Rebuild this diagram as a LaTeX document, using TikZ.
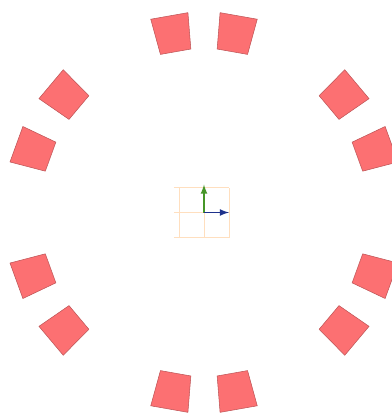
\documentclass[tikz,border=0pt]{standalone}
\usepackage{tikz}

\definecolor{padred}{RGB}{252,112,114}
\definecolor{axisgreen}{RGB}{70,150,40}
\definecolor{axisblue}{RGB}{30,50,140}

\begin{document}
\begin{tikzpicture}[
		pad/.style={fill=padred, draw=padred!75!black, line width=0.3pt}
	]
				% Frame
				\useasboundingbox (-4.08,-4.09) rectangle (3.74,4.25);
				% Pads
				\foreach \p in {30,90,150,210,270,330}
					\foreach \d in {-10,10}
						\draw[pad] ({\p+\d-5.4}:3.28) -- ({\p+\d+5.4}:3.28) -- ({\p+\d+5.4}:4.01) -- ({\p+\d-5.4}:4.01) -- cycle;
				% Grid
				\draw[step=0.5cm, orange!25, very thin] (-0.6,-0.5) grid (0.5,0.5);
				% Axes
				\draw[thick, axisgreen, -latex] (0,0) -- (0,0.56);
				\draw[thick, axisblue, -latex] (0,0) -- (0.5,0);
			\end{tikzpicture}
\end{document}
